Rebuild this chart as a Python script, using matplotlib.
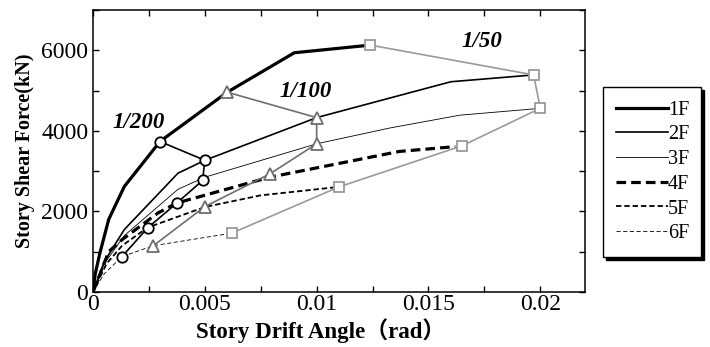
import matplotlib.pyplot as plt

plt.rcParams['font.family'] = ['Liberation Serif', 'Noto Sans CJK JP']
plt.rcParams['xtick.labelsize'] = 17
plt.rcParams['ytick.labelsize'] = 17

# story curves: drift angle (rad) vs shear force (kN)
x_1f = [0, 0.0001, 0.0003, 0.0007, 0.0014, 0.0030, 0.0060, 0.0090, 0.0124]
y_1f = [0, 450, 950, 1800, 2620, 3740, 4960, 5940, 6130]
x_2f = [0, 0.0005, 0.0014, 0.0038, 0.0050, 0.0100, 0.0133, 0.0160, 0.0197]
y_2f = [0, 750, 1550, 2950, 3270, 4330, 4820, 5220, 5390]
x_3f = [0, 0.0005, 0.0014, 0.0038, 0.0050, 0.0100, 0.0133, 0.0164, 0.0200]
y_3f = [0, 700, 1400, 2550, 2850, 3680, 4075, 4390, 4560]
x_4f = [0, 0.0007, 0.0013, 0.0029, 0.00375, 0.0079, 0.0137, 0.0162]
y_4f = [0, 1000, 1300, 1960, 2210, 2850, 3490, 3610]
x_5f = [0, 0.0006, 0.0013, 0.00244, 0.0050, 0.0075, 0.0110]
y_5f = [0, 700, 1150, 1600, 2110, 2400, 2610]
x_6f = [0, 0.0005, 0.0013, 0.0027, 0.0062]
y_6f = [0, 450, 880, 1150, 1460]

# drift limit points, 1F..6F
x_200 = [0.0030, 0.0050, 0.0049, 0.00375, 0.00244, 0.0013]
y_200 = [3735, 3270, 2770, 2210, 1590, 880]
x_100 = [0.0060, 0.0100, 0.0100, 0.0079, 0.0050, 0.0027]
y_100 = [4960, 4330, 3680, 2930, 2120, 1150]
x_50 = [0.0124, 0.0197, 0.0200, 0.0165, 0.0110, 0.0062]
y_50 = [6130, 5390, 4560, 3630, 2610, 1460]

fig = plt.figure(figsize=(7.1, 3.47), dpi=100)
ax = fig.add_axes([0.131, 0.1585, 0.693, 0.8125])

ax.plot(x_1f, y_1f, color='k', lw=2.3, label='1F')
ax.plot(x_2f, y_2f, color='k', lw=1.2, label='2F')
ax.plot(x_3f, y_3f, color='k', lw=0.6, label='3F')
ax.plot(x_4f, y_4f, color='k', lw=2.3, ls=(0, (3, 1.6)), label='4F')
ax.plot(x_5f, y_5f, color='k', lw=1.3, ls=(0, (3, 1.6)), label='5F')
ax.plot(x_6f, y_6f, color='k', lw=0.6, ls=(0, (5, 3)), label='6F')

ax.plot(x_200, y_200, color='k', lw=1.2, marker='o', ms=7.5,
        mfc='white', mec='k', mew=1.3, zorder=5)
ax.plot(x_100, y_100, color='#6e6e6e', lw=1.2, marker='^', ms=8,
        mfc='white', mec='#6e6e6e', mew=1.3, zorder=5)
ax.plot(x_50, y_50, color='#9a9a9a', lw=1.2, marker='s', ms=7,
        mfc='white', mec='#9a9a9a', mew=1.3, zorder=5)

lab = dict(fontsize=16.5, fontweight='bold', fontstyle='italic', va='center')
ax.text(0.00087, 4220, '1/200', **lab)
ax.text(0.00832, 4990, '1/100', **lab)
ax.text(0.01649, 6210, '1/50', **lab)

ax.set_xlim(0, 0.022)
ax.set_ylim(0, 7000)
ax.set_xticks([0, 0.005, 0.01, 0.015, 0.02])
ax.set_xticklabels(['0', '0.005', '0.01', '0.015', '0.02'])
ax.set_xticks([0.0025, 0.0075, 0.0125, 0.0175], minor=True)
ax.set_yticks([0, 2000, 4000, 6000])
ax.set_yticks([1000, 3000, 5000, 7000], minor=True)
ax.tick_params(which='both', direction='in', top=True, right=True,
               length=4.5, width=1.0)
ax.tick_params(axis='x', pad=1.5)
ax.tick_params(axis='y', pad=3.5)
for s in ax.spines.values():
    s.set_linewidth(1.1)

ax.set_xlabel('Story Drift Angle（rad）', fontsize=16.5, fontweight='bold',
              va='baseline')
ax.xaxis.set_label_coords(0.462, -0.163)
ax.set_ylabel('Story Shear Force(kN)', fontsize=14.5, fontweight='bold')
ax.yaxis.set_label_coords(-0.118, 0.5)

leg = fig.legend(loc='upper left',
                 bbox_to_anchor=(603 / 710, 1 - 256 / 347, 98 / 710, 169 / 347),
                 mode='expand', fontsize=14.5,
                 frameon=True, fancybox=False, edgecolor='k', framealpha=1,
                 shadow={'color': 'k', 'alpha': 1}, handlelength=2.55,
                 handletextpad=0.0, labelspacing=0.28, borderpad=0.67,
                 borderaxespad=0)
leg.get_frame().set_linewidth(1.0)

fig.savefig('out.png', dpi=100)
